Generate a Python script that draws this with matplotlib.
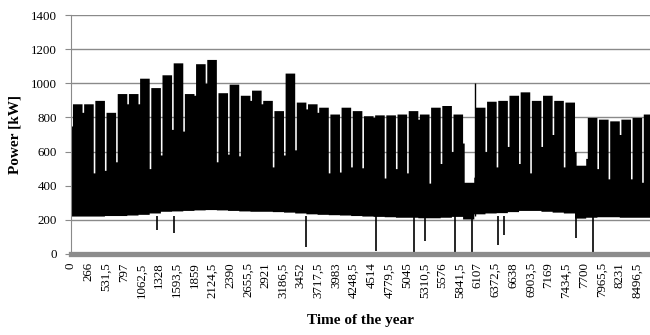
import numpy as np
import matplotlib
matplotlib.use("Agg")
import matplotlib.pyplot as plt

plt.rcParams['font.family'] = ['Liberation Serif', 'DejaVu Serif']

# weekly load levels [kW]: working-day peak, Sunday peak, night-time floor
week_peak = [880, 880, 900, 830, 940, 940, 1030, 975, 1050, 1120, 940, 1115, 1140,
             945, 995, 930, 960, 900, 840, 1060, 890, 880, 860, 820, 860, 840,
             810, 815, 815, 820, 840, 820, 860, 870, 820, 420, 860, 895, 900,
             930, 950, 900, 930, 900, 890, 520, 800, 790, 780, 790, 800, 820, 800]
week_sun = [750, 830, 475, 490, 540, 880, 880, 500, 580, 730, 720, 930, 1000,
            540, 585, 575, 900, 880, 510, 580, 610, 850, 830, 475, 480, 510,
            505, 800, 445, 500, 475, 790, 415, 530, 600, 650, 450, 600, 510,
            630, 530, 475, 630, 700, 510, 600, 560, 500, 440, 700, 440, 420, 500]
week_floor = [222, 222, 222, 225, 225, 228, 232, 240, 250, 252, 255, 258, 260,
              258, 255, 252, 250, 250, 248, 245, 240, 235, 232, 230, 228, 225,
              222, 220, 218, 215, 215, 212, 212, 215, 220, 205, 235, 240, 242,
              248, 255, 255, 250, 245, 240, 210, 215, 218, 218, 215, 215, 215, 215]

# short outages (hour of year, minimum power)
dip_hours = [1293, 1553, 3537, 4581, 5156, 5322, 5773, 6018, 6404, 6499, 7587, 7832]
dip_values = [140, 120, 40, 15, 5, 75, 5, 5, 50, 110, 95, 10]
peak_hour = 6066
peak_value = 1000

tick_labels = ['0', '266', '531,5', '797', '1062,5', '1328', '1593,5', '1859',
               '2124,5', '2390', '2655,5', '2921', '3186,5', '3452', '3717,5',
               '3983', '4248,5', '4514', '4779,5', '5045', '5310,5', '5576',
               '5841,5', '6107', '6372,5', '6638', '6903,5', '7169', '7434,5',
               '7700', '7965,5', '8231', '8496,5']

days = np.arange(365)
wk = days // 7
peak = np.where(days % 7 == 0, np.array(week_sun)[wk], np.array(week_peak)[wk])
floor = np.array(week_floor)[wk]
edges = np.append(days, 365) * 24
peak = np.append(peak, peak[-1])
floor = np.append(floor, floor[-1])

fig = plt.figure(figsize=(6.5, 3.35), dpi=100)
ax = fig.add_axes([0.109, 0.242, 0.891, 0.713])

ax.fill_between(edges, floor, peak, step='post', color='black', lw=0)
ax.vlines(dip_hours, 220, dip_values, color='black', lw=1.2)
ax.vlines(peak_hour, 220, peak_value, color='black', lw=1.0)

ax.set_xlim(0, 8693)
ax.set_ylim(0, 1400)
ax.set_yticks(np.arange(0, 1401, 200))
ax.yaxis.grid(True, color='#8a8a8a', lw=1.0)
ax.set_axisbelow(True)

ticks = np.arange(len(tick_labels)) * 265.5
ax.set_xticks(ticks)
ax.set_xticklabels(tick_labels, rotation=90, fontsize=9.3)
ax.tick_params(axis='x', length=0, pad=6)
ax.tick_params(axis='y', length=4, color='#8a8a8a', labelsize=9.3, pad=6)

for s in ['top', 'right', 'bottom']:
    ax.spines[s].set_visible(False)
ax.spines['left'].set_color('#8a8a8a')
ax.axhline(0, color='#8c8c8c', lw=3.8, zorder=3, clip_on=False)

ax.set_ylabel('Power [kW]', fontsize=11, fontweight='bold', labelpad=7)
ax.set_xlabel('Time of the year', fontsize=11, fontweight='bold', labelpad=12)

plt.savefig('out.png', dpi=100)
